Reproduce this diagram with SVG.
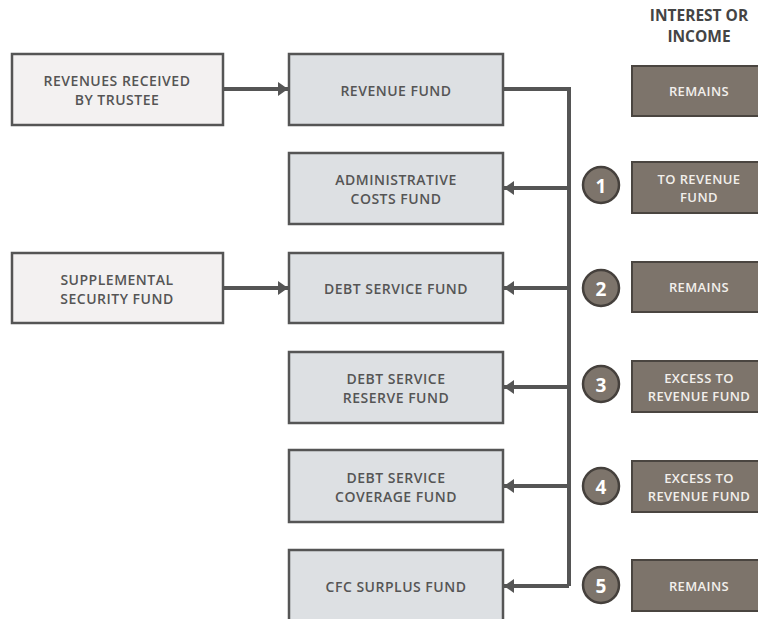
<svg xmlns="http://www.w3.org/2000/svg" width="758" height="619" viewBox="0 0 758 619">
<defs>
<style>
text{font-family:"Open Sans","Noto Sans","Liberation Sans",sans-serif;font-size:14px;font-weight:600;letter-spacing:0.5px;text-anchor:middle;dominant-baseline:central}
.src rect{fill:#f3f1f1;stroke:#555;stroke-width:2.5}
.fund rect{fill:#dde0e3;stroke:#555;stroke-width:2.5}
.src text,.fund text{fill:#555}
.res rect{fill:#7d746b;stroke:#4a4540;stroke-width:2}
.res text{fill:#f2efec;font-size:13px;letter-spacing:0.4px}
.num circle{fill:#7d746b;stroke:#45403c;stroke-width:2.5}
.num text{fill:#fff;font-weight:bold;font-size:19px;letter-spacing:0}
.conn path{fill:none;stroke:#555;stroke-width:4}
.hdr{fill:#444;font-weight:bold;font-size:15.5px;letter-spacing:0}
</style>
<marker id="ah" viewBox="0 0 10 14" refX="10" refY="7" markerWidth="10" markerHeight="14" markerUnits="userSpaceOnUse" orient="auto"><path d="M0,0 L10,7 L0,14 Z" fill="#555"/></marker>
</defs>
<rect width="758" height="619" fill="#fff"/>
<g id="header"><text class="hdr" x="699" y="15">INTEREST OR</text><text class="hdr" x="699" y="36">INCOME</text></g>
<g class="conn" id="connectors">
<path d="M223,89 H288" marker-end="url(#ah)"/>
<path d="M223,288 H288" marker-end="url(#ah)"/>
<path d="M503,89 H569 V586"/>
<path d="M569,188 H504" marker-end="url(#ah)"/>
<path d="M569,288 H504" marker-end="url(#ah)"/>
<path d="M569,387 H504" marker-end="url(#ah)"/>
<path d="M569,486 H504" marker-end="url(#ah)"/>
<path d="M569,586 H504" marker-end="url(#ah)"/>
</g>
<g class="src" id="revenues-received"><rect x="12" y="54" width="211" height="71"/><text x="117" y="80">REVENUES RECEIVED</text><text x="117" y="99">BY TRUSTEE</text></g>
<g class="src" id="supplemental"><rect x="12" y="253" width="211" height="70"/><text x="117" y="279">SUPPLEMENTAL</text><text x="117" y="298">SECURITY FUND</text></g>
<g class="fund" id="revenue-fund"><rect x="289" y="54" width="214" height="71"/><text x="396" y="90">REVENUE FUND</text></g>
<g class="fund" id="admin-fund"><rect x="289" y="153" width="214" height="71"/><text x="396" y="179.5">ADMINISTRATIVE</text><text x="396" y="198.5">COSTS FUND</text></g>
<g class="fund" id="debt-service-fund"><rect x="289" y="253" width="214" height="70"/><text x="396" y="288">DEBT SERVICE FUND</text></g>
<g class="fund" id="reserve-fund"><rect x="289" y="352" width="214" height="71"/><text x="396" y="378">DEBT SERVICE</text><text x="396" y="397">RESERVE FUND</text></g>
<g class="fund" id="coverage-fund"><rect x="289" y="450" width="214" height="72"/><text x="396" y="477">DEBT SERVICE</text><text x="396" y="496">COVERAGE FUND</text></g>
<g class="fund" id="cfc-fund"><rect x="289" y="550" width="214" height="80"/><text x="396" y="586">CFC SURPLUS FUND</text></g>
<g class="num" id="n1"><circle cx="601" cy="185" r="18"/><text x="601" y="186">1</text></g>
<g class="num" id="n2"><circle cx="601" cy="288" r="18"/><text x="601" y="289">2</text></g>
<g class="num" id="n3"><circle cx="601" cy="384" r="18"/><text x="601" y="385">3</text></g>
<g class="num" id="n4"><circle cx="601" cy="486" r="18"/><text x="601" y="487">4</text></g>
<g class="num" id="n5"><circle cx="601" cy="585" r="18"/><text x="601" y="586">5</text></g>
<g class="res" id="r0"><rect x="632" y="66" width="134" height="50"/><text x="699" y="91">REMAINS</text></g>
<g class="res" id="r1"><rect x="632" y="162" width="134" height="51"/><text x="699" y="179">TO REVENUE</text><text x="699" y="197">FUND</text></g>
<g class="res" id="r2"><rect x="632" y="262" width="134" height="50"/><text x="699" y="287">REMAINS</text></g>
<g class="res" id="r3"><rect x="632" y="361" width="134" height="51"/><text x="699" y="377.5">EXCESS TO</text><text x="699" y="395.5">REVENUE FUND</text></g>
<g class="res" id="r4"><rect x="632" y="461" width="134" height="51"/><text x="699" y="477.5">EXCESS TO</text><text x="699" y="495.5">REVENUE FUND</text></g>
<g class="res" id="r5"><rect x="632" y="560" width="134" height="51"/><text x="699" y="586">REMAINS</text></g>
</svg>
